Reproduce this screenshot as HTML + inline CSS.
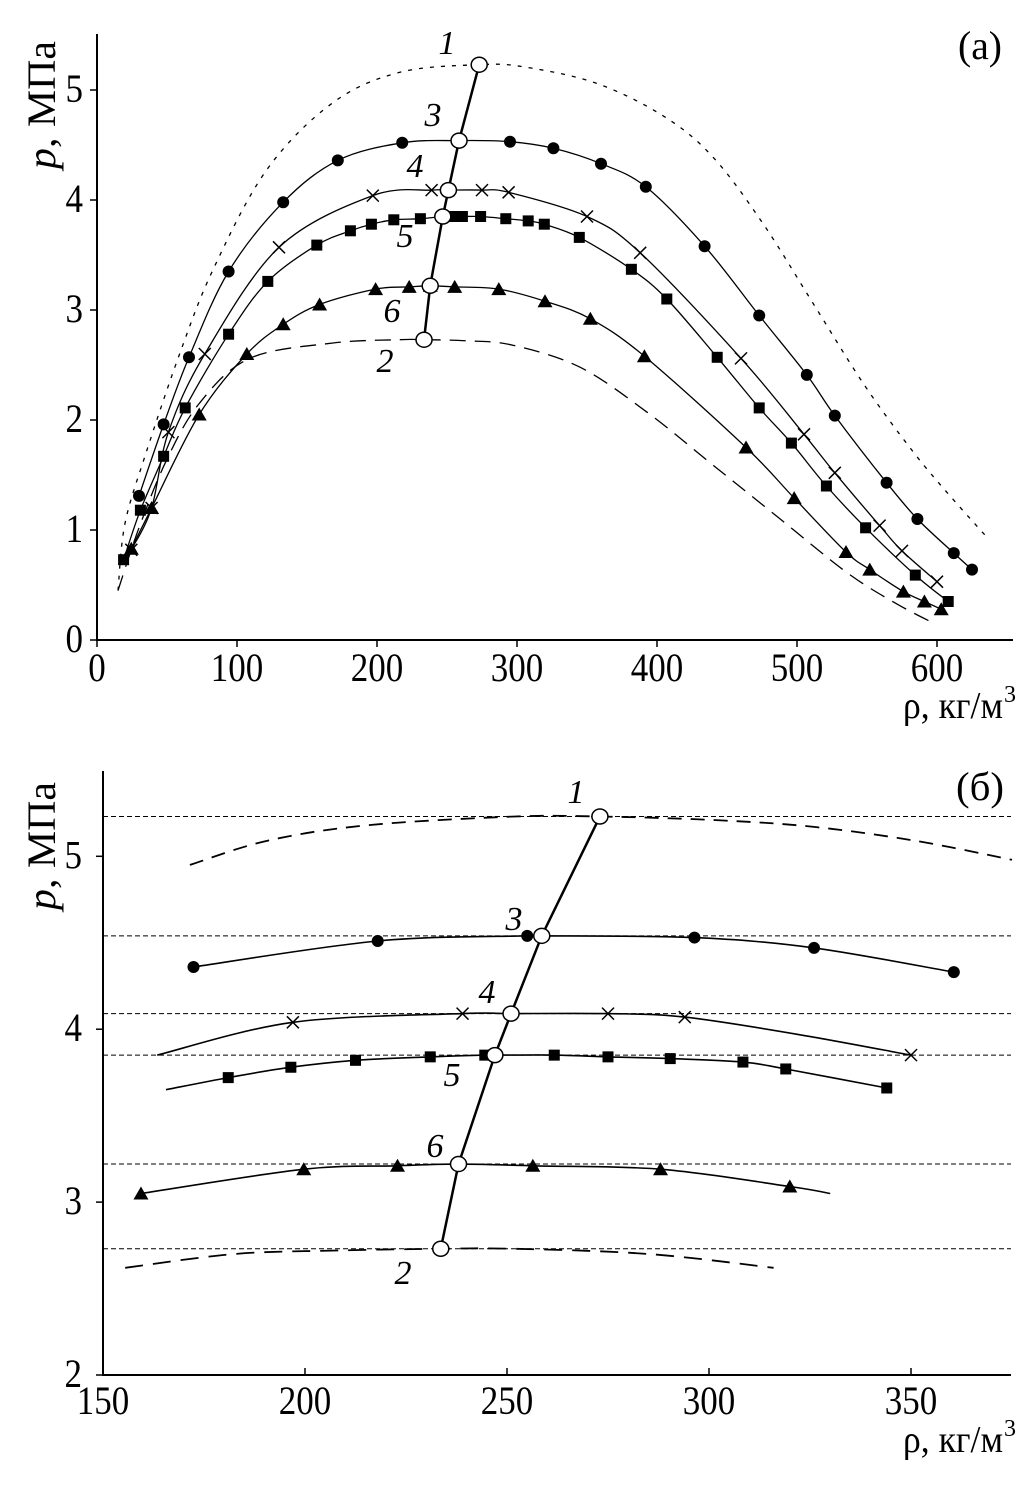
<!DOCTYPE html>
<html><head><meta charset="utf-8">
<style>
html,body{margin:0;padding:0;background:#fff;}
svg{display:block;}
text{font-family:"Liberation Serif","DejaVu Serif",serif;fill:#000;}
</style></head>
<body>
<svg id="chart" width="1028" height="1488" viewBox="0 0 1028 1488" xmlns="http://www.w3.org/2000/svg"></svg>
<script>
// ---------- Panel (a) data ----------
const aTicksX = [0,100,200,300,400,500,600];
const aTicksY = [0,1,2,3,4,5];
const a1X = [15,20,35,59,83,121,168,216,273,305,357,405,440,476,512,548,583,610,636];
const a1Y = [0.45,1.06,1.7,2.6,3.37,4.27,4.88,5.16,5.23,5.21,5.06,4.76,4.39,3.78,3.05,2.32,1.71,1.3,0.93];
const a2X = [15,30,49.5,73,109,168.6,216,233.6,264,297,345,393,440,488,536,571,598];
const a2Y = [0.45,1.02,1.63,2.15,2.56,2.70,2.73,2.73,2.72,2.68,2.48,2.07,1.59,1.10,0.61,0.33,0.15];
const a3X = [30,47.6,65.7,94,133,172,218,258.6,295,326,360,392,434,473,507,527,564,586,612,625];
const a3Y = [1.31,1.96,2.57,3.35,3.98,4.36,4.52,4.54,4.53,4.47,4.33,4.12,3.58,2.95,2.41,2.04,1.43,1.10,0.79,0.64];
const a4X = [24.5,39,51,77,130,197,239,251,275,294,350,388,460,505,527,559,575,600];
const a4Y = [0.82,1.2,1.89,2.6,3.57,4.04,4.09,4.09,4.09,4.07,3.85,3.52,2.56,1.87,1.52,1.04,0.81,0.53];
const a5X = [19,31,47.6,63,94,122,157,181,196,212,231,247,253.6,261,274,292,308,319.5,344.5,381.7,407,443,473,496,521,549,584.5,608];
const a5Y = [0.73,1.18,1.67,2.11,2.78,3.26,3.59,3.72,3.78,3.82,3.83,3.85,3.85,3.85,3.85,3.83,3.81,3.78,3.66,3.37,3.10,2.57,2.11,1.79,1.40,1.02,0.59,0.35];
const a6X = [24.5,39,73,107,133,159,199,223,238,255.5,287,320,352.4,391,463.6,498,535,552,576,591,603];
const a6Y = [0.83,1.2,2.05,2.6,2.87,3.05,3.19,3.21,3.22,3.21,3.19,3.08,2.92,2.58,1.75,1.29,0.80,0.64,0.44,0.35,0.28];
// open-circle points of line 1-2 (shared with panel b)
const critX = [273,258.6,251,247,238,233.6];
const critY = [5.23,4.54,4.09,3.85,3.22,2.73];

// ---------- Panel (b) data ----------
const bTicksX = [150,200,250,300,350];
const bTicksY = [2,3,4,5];
const bRefY = [5.23,4.54,4.09,3.85,3.22,2.73];
const b1X = [171.5,190.7,215.6,252,273,301,326,351,375];
const b1Y = [4.95,5.09,5.18,5.23,5.23,5.21,5.17,5.09,4.98];
const b2X = [155.5,182.5,208,233.4,252,285,316];
const b2Y = [2.62,2.70,2.72,2.73,2.73,2.70,2.62];
const b3X = [172.4,218,255,258,296.4,326,360.6];
const b3Y = [4.36,4.51,4.54,4.54,4.53,4.47,4.33];
const b4X = [163.4,197,239,250.5,275,294,322,350];
const b4Y = [3.85,4.04,4.09,4.09,4.09,4.07,3.97,3.85];
const b5X = [165.6,181,196.5,212.5,231,244.5,250.7,261.7,275,290.4,308.4,319,344];
const b5Y = [3.65,3.72,3.78,3.82,3.84,3.85,3.85,3.85,3.84,3.83,3.81,3.77,3.66];
const b6X = [159.4,199.7,222.9,237.7,256.4,288,320,330];
const b6Y = [3.05,3.19,3.21,3.22,3.21,3.19,3.09,3.05];

const NS = "http://www.w3.org/2000/svg";
const svg = document.getElementById('chart');
function mk(tag, attrs, parent){
  const e = document.createElementNS(NS, tag);
  for (const k in attrs) e.setAttribute(k, attrs[k]);
  (parent||svg).appendChild(e);
  return e;
}
function smoothPath(pts){
  if (pts.length < 2) return '';
  let d = 'M' + pts[0][0].toFixed(1) + ',' + pts[0][1].toFixed(1);
  for (let i = 0; i < pts.length - 1; i++){
    const p0 = pts[i-1] || pts[i], p1 = pts[i], p2 = pts[i+1], p3 = pts[i+2] || p2;
    const c1x = p1[0] + (p2[0]-p0[0])/6, c1y = p1[1] + (p2[1]-p0[1])/6;
    const c2x = p2[0] - (p3[0]-p1[0])/6, c2y = p2[1] - (p3[1]-p1[1])/6;
    d += ' C' + c1x.toFixed(1)+','+c1y.toFixed(1)+' '+c2x.toFixed(1)+','+c2y.toFixed(1)+' '+p2[0].toFixed(1)+','+p2[1].toFixed(1);
  }
  return d;
}
function marker(type, x, y, g){
  let e;
  if (type === 'circle') e = mk('circle',{cx:x,cy:y,r:6,fill:'#000'},g);
  else if (type === 'square') e = mk('rect',{x:x-5.5,y:y-5.5,width:11,height:11,fill:'#000'},g);
  else if (type === 'triangle') e = mk('polygon',{points:(x)+','+(y-7)+' '+(x-7.5)+','+(y+6)+' '+(x+7.5)+','+(y+6),fill:'#000'},g);
  else if (type === 'cross') e = mk('path',{d:'M'+(x-6)+','+(y-6)+'L'+(x+6)+','+(y+6)+'M'+(x-6)+','+(y+6)+'L'+(x+6)+','+(y-6),stroke:'#000','stroke-width':1.5,fill:'none'},g);
  else if (type === 'open') e = mk('ellipse',{cx:x,cy:y,rx:8,ry:7.5,fill:'#fff',stroke:'#000','stroke-width':1.5},g);
  
  
  return e;
}
function txt(s, x, y, size, attrs, name){
  const t = mk('text', Object.assign({x:x, y:y, 'font-size':size}, attrs||{}));
  t.textContent = s;
  
  
  return t;
}
function tick(s, x, y, anchor, name){
  const w = s.length * 17.5;
  const x0 = anchor === 'middle' ? x - w/2 : (anchor === 'end' ? x - w : x);
  const t = mk('text',{x:x0,y:y,'font-size':40,textLength:w,lengthAdjust:'spacingAndGlyphs'});
  t.textContent = s;
  
  
  return t;
}
function axisTitle(x, y, name){
  const t = mk('text',{x:x,y:y,'font-size':38,textLength:100,lengthAdjust:'spacingAndGlyphs','text-anchor':'end'});
  t.textContent = 'ρ, кг/м';
  
  
  txt('3', x+1, y-16, 24, {}, name + '-exp');
}
function yTitle(cx, cy, name){
  const yl = mk('text',{x:0,y:0,'font-size':40,textLength:128,lengthAdjust:'spacingAndGlyphs',transform:'translate('+cx+','+cy+') rotate(-90)','text-anchor':'middle'});
  
  
  yl.innerHTML = '<tspan font-style="italic">p</tspan>, МПа';
}

// ---------- draw panel (a) ----------
(function(){
  const sx = v => 97 + v*1.40;
  const sy = v => 640 - v*110;
  const g = mk('g',{});
  
  
  const ax = mk('path',{d:'M97,34 L97,640 L1013,640',stroke:'#000','stroke-width':2,fill:'none'},g);
  
  
  aTicksX.forEach(v=>{
    mk('line',{x1:sx(v),y1:640,x2:sx(v),y2:647,stroke:'#000','stroke-width':1.5},g);
    tick(String(v), sx(v), 681, 'middle', 'x-tick-label-a');
  });
  aTicksY.forEach(v=>{
    mk('line',{x1:90,y1:sy(v),x2:97,y2:sy(v),stroke:'#000','stroke-width':1.5},g);
    tick(String(v), 83, sy(v)+12, 'end', 'y-tick-label-a');
  });
  const line = (X,Y,attrs,name)=>{
    const p = mk('path',Object.assign({d:smoothPath(X.map((x,i)=>[sx(x),sy(Y[i])])),fill:'none',stroke:'#000'},attrs),g);
    
    
  };
  line(a1X,a1Y,{'stroke-width':1.3,'stroke-dasharray':'4,7'},'curve-1-a');
  line(a2X,a2Y,{'stroke-width':1.3,'stroke-dasharray':'16,9'},'curve-2-a');
  line(a3X,a3Y,{'stroke-width':1.3},'curve-3-a');
  line(a4X,a4Y,{'stroke-width':1.3},'curve-4-a');
  line(a5X,a5Y,{'stroke-width':1.3},'curve-5-a');
  line(a6X,a6Y,{'stroke-width':1.3},'curve-6-a');
  a3X.forEach((x,i)=>marker('circle',sx(x),sy(a3Y[i]),g));
  a4X.forEach((x,i)=>marker('cross',sx(x),sy(a4Y[i]),g));
  a5X.forEach((x,i)=>marker('square',sx(x),sy(a5Y[i]),g));
  a6X.forEach((x,i)=>marker('triangle',sx(x),sy(a6Y[i]),g));
  const cl = mk('polyline',{points:critX.map((x,i)=>sx(x)+','+sy(critY[i])).join(' '),fill:'none',stroke:'#000','stroke-width':2.5},g);
  
  
  critX.forEach((x,i)=>marker('open',sx(x),sy(critY[i]),g));
  const it = {'font-style':'italic','text-anchor':'middle'};
  txt('1',447,54,34,it,'label-1-a');
  txt('3',433,126,34,it,'label-3-a');
  txt('4',415,177,34,it,'label-4-a');
  txt('5',405,247,34,it,'label-5-a');
  txt('6',392,322,34,it,'label-6-a');
  txt('2',385,372,34,it,'label-2-a');
  const pl = mk('text',{x:958,y:59,'font-size':40,textLength:44,lengthAdjust:'spacingAndGlyphs'});
  pl.textContent = '(a)';
  
  
  yTitle(55,105,'y-axis-title-a');
  axisTitle(1003,718,'x-axis-title-a');
})();

// ---------- draw panel (b) ----------
(function(){
  const sx = v => 103 + (v-150)*4.04;
  const sy = v => 1375 - (v-2)*172.9;
  const g = mk('g',{});
  
  
  const ax = mk('path',{d:'M103,771 L103,1375 L1011,1375',stroke:'#000','stroke-width':2,fill:'none'},g);
  
  
  bTicksX.forEach(v=>{
    mk('line',{x1:sx(v),y1:1375,x2:sx(v),y2:1368,stroke:'#000','stroke-width':1.5},g);
    tick(String(v), sx(v), 1414, 'middle', 'x-tick-label-b');
  });
  bTicksY.forEach(v=>{
    mk('line',{x1:96,y1:sy(v),x2:103,y2:sy(v),stroke:'#000','stroke-width':1.5},g);
    tick(String(v), 82, sy(v)+12, 'end', 'y-tick-label-b');
  });
  bRefY.forEach(v=>{
    const l = mk('line',{x1:103,y1:sy(v),x2:1011,y2:sy(v),stroke:'#000','stroke-width':1,'stroke-dasharray':'5,3'},g);
    
    
  });
  const line = (X,Y,attrs,name)=>{
    const p = mk('path',Object.assign({d:smoothPath(X.map((x,i)=>[sx(x),sy(Y[i])])),fill:'none',stroke:'#000'},attrs),g);
    
    
  };
  line(b1X,b1Y,{'stroke-width':1.8,'stroke-dasharray':'14,9'},'curve-1-b');
  line(b2X,b2Y,{'stroke-width':1.8,'stroke-dasharray':'18,10'},'curve-2-b');
  line(b3X,b3Y,{'stroke-width':1.6},'curve-3-b');
  line(b4X,b4Y,{'stroke-width':1.6},'curve-4-b');
  line(b5X,b5Y,{'stroke-width':1.6},'curve-5-b');
  line(b6X,b6Y,{'stroke-width':1.6},'curve-6-b');
  b3X.forEach((x,i)=>{ if (Math.abs(x-258)>0.5) marker('circle',sx(x),sy(b3Y[i]),g); });
  b4X.forEach((x,i)=>{ if (i>0 && Math.abs(x-250.5)>0.5 && Math.abs(x-322)>0.5) marker('cross',sx(x),sy(b4Y[i]),g); });
  b5X.forEach((x,i)=>{ if (i>0 && Math.abs(x-250.7)>0.5) marker('square',sx(x),sy(b5Y[i]),g); });
  b6X.forEach((x,i)=>{ if (i<b6X.length-1 && Math.abs(x-237.7)>0.5) marker('triangle',sx(x),sy(b6Y[i]),g); });
  const cl = mk('polyline',{points:critX.map((x,i)=>sx(x)+','+sy(critY[i])).join(' '),fill:'none',stroke:'#000','stroke-width':2.5},g);
  
  
  critX.forEach((x,i)=>marker('open',sx(x),sy(critY[i]),g));
  const it = {'font-style':'italic','text-anchor':'middle'};
  txt('1',576,803,34,it,'label-1-b');
  txt('3',514,930,34,it,'label-3-b');
  txt('4',487,1003,34,it,'label-4-b');
  txt('5',452,1086,34,it,'label-5-b');
  txt('6',435,1157,34,it,'label-6-b');
  txt('2',403,1284,34,it,'label-2-b');
  const pl = mk('text',{x:956,y:800,'font-size':40,textLength:48,lengthAdjust:'spacingAndGlyphs'});
  pl.textContent = '(б)';
  
  
  yTitle(55,846,'y-axis-title-b');
  axisTitle(1003,1452,'x-axis-title-b');
})();
</script>
</body></html>
